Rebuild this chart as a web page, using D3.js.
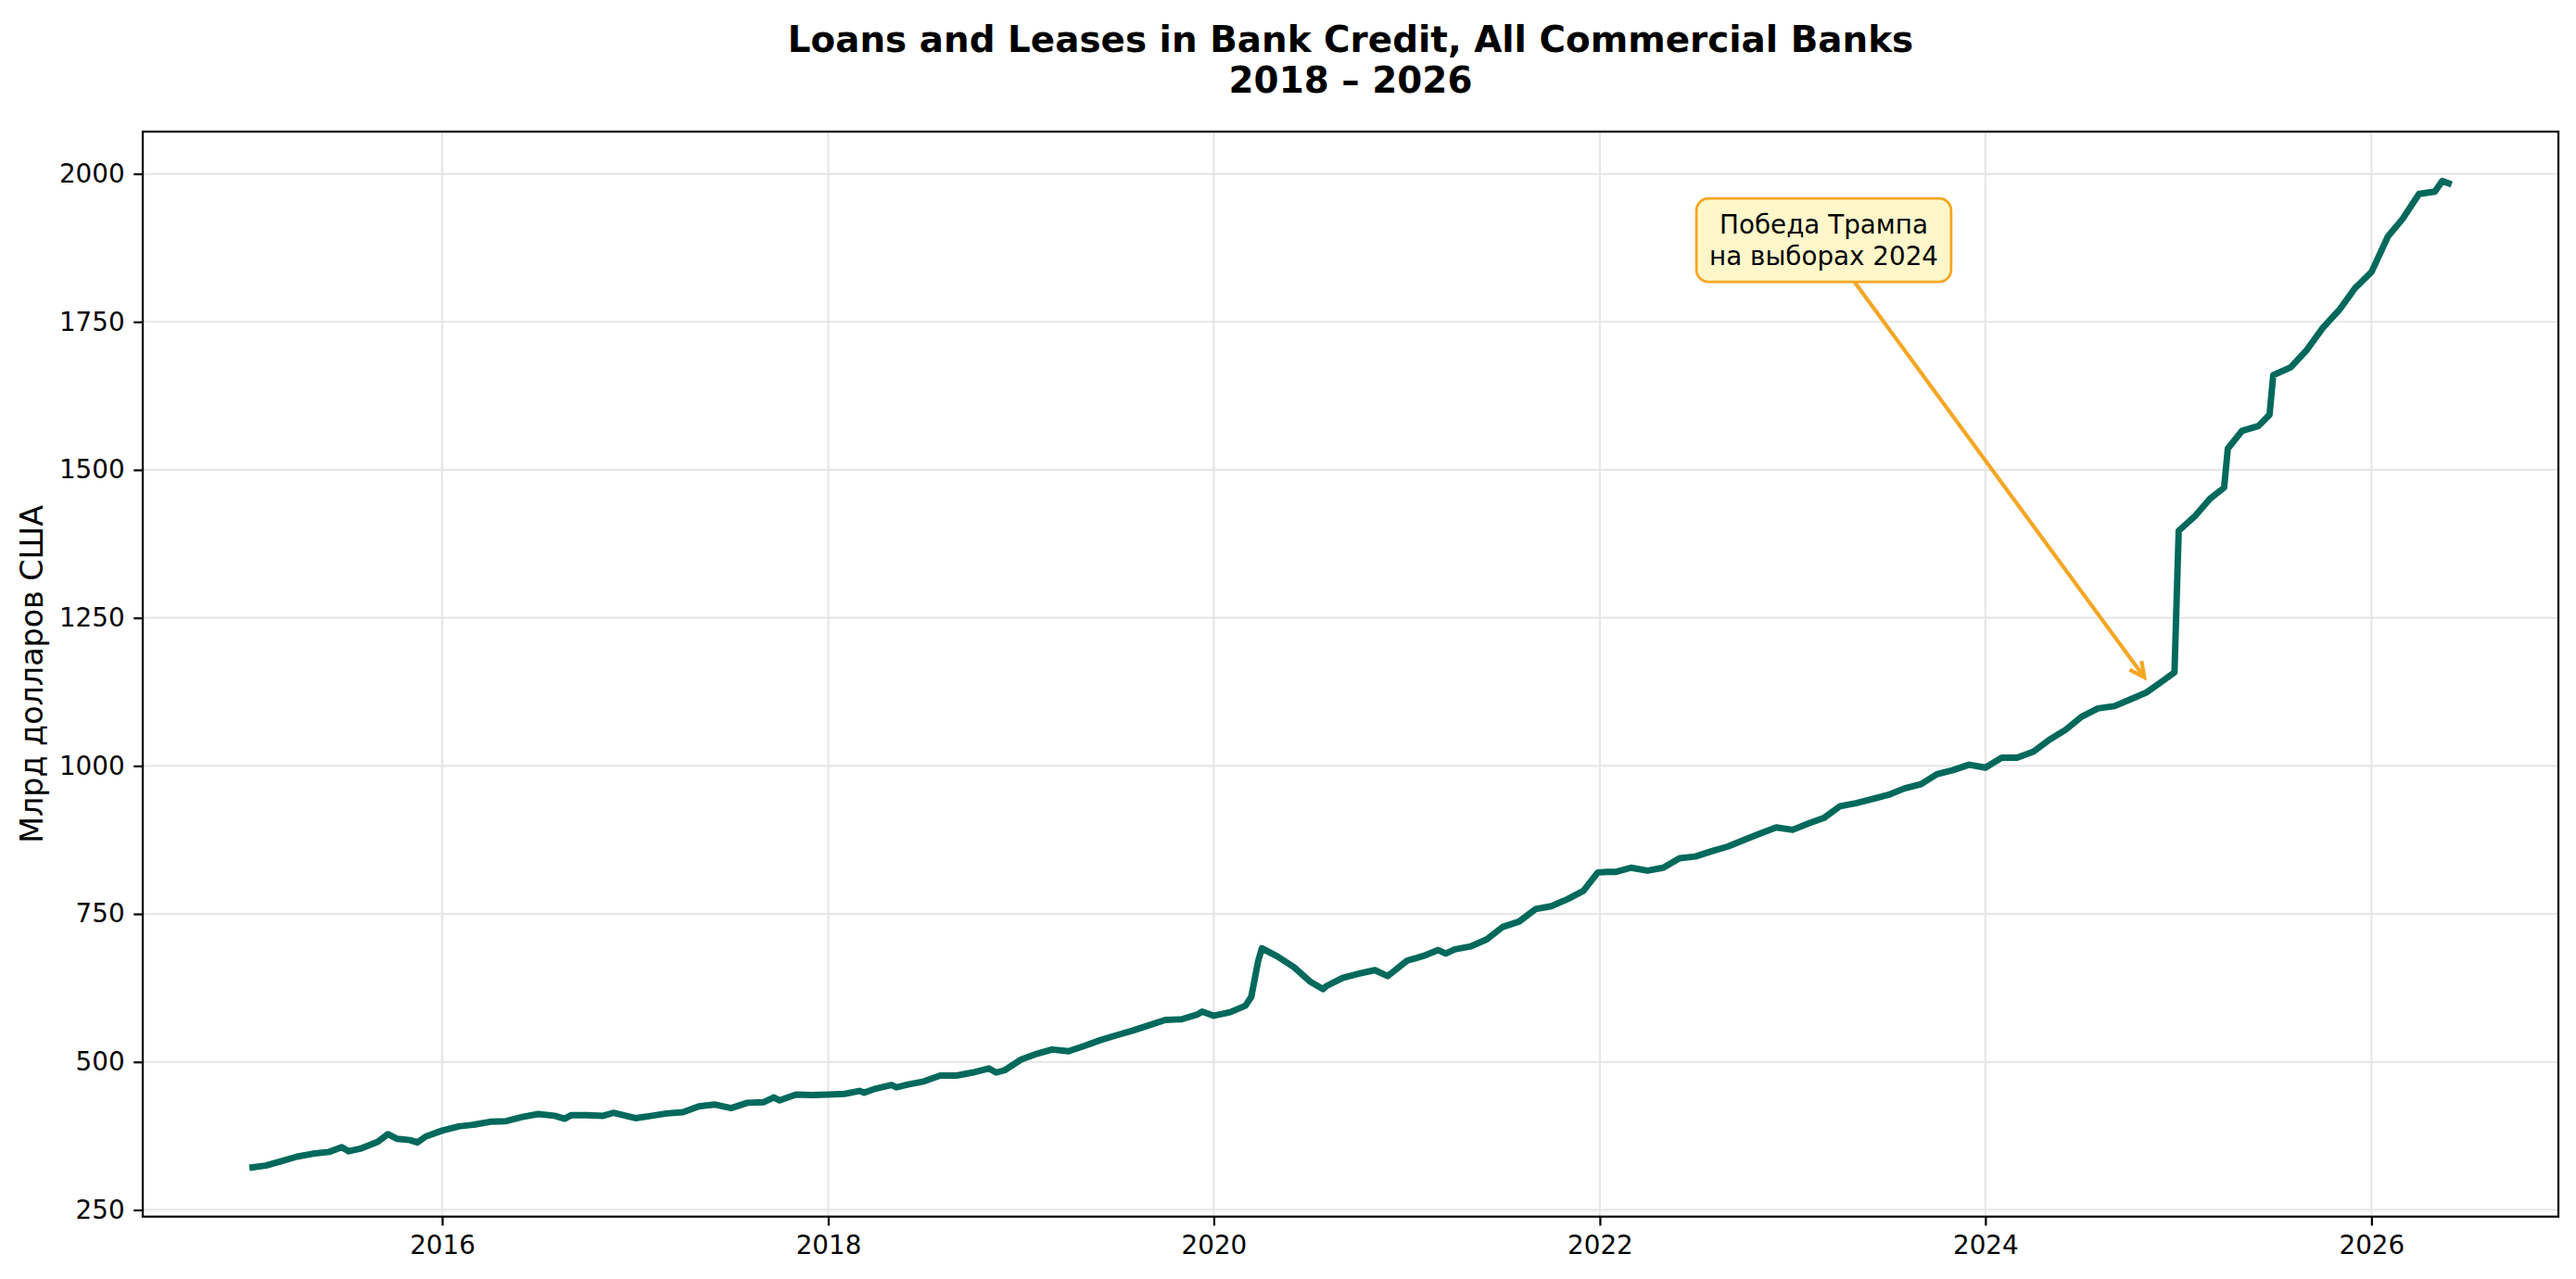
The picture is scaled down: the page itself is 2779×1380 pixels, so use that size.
<!DOCTYPE html>
<html><head><meta charset="utf-8">
<script src="https://cdn.jsdelivr.net/npm/d3@7"></script>
<style>body{margin:0;background:#fff}svg{display:block;font-family:"DejaVu Sans",sans-serif}</style>
</head><body>
<svg id="chart" width="2779" height="1380"></svg>
<script>
const dates = ["2015-01-07","2015-02-01","2015-03-01","2015-04-01","2015-05-01","2015-06-01","2015-06-25","2015-07-08","2015-08-01","2015-09-01","2015-09-20","2015-10-08","2015-11-01","2015-11-15","2015-12-01",
"2016-01-01","2016-02-01","2016-03-01","2016-04-01","2016-05-01","2016-06-01","2016-07-01","2016-08-01","2016-08-20","2016-09-01","2016-10-01","2016-11-01","2016-11-20",
"2017-01-01","2017-02-01","2017-03-01","2017-04-01","2017-05-01","2017-06-01","2017-07-01","2017-08-01","2017-09-01","2017-09-20","2017-10-01","2017-11-01","2017-12-01",
"2018-01-01","2018-02-01","2018-03-01","2018-03-10","2018-04-01","2018-05-01","2018-05-10","2018-06-01","2018-07-01","2018-08-01","2018-09-01","2018-10-01","2018-11-01","2018-11-15","2018-12-01",
"2019-01-01","2019-02-01","2019-03-01","2019-04-01","2019-05-01","2019-06-01","2019-07-01","2019-08-01","2019-09-01","2019-10-01","2019-11-01","2019-12-01","2019-12-10",
"2020-01-01","2020-02-01","2020-03-01","2020-03-12","2020-03-25","2020-04-01","2020-05-01","2020-06-01","2020-07-01","2020-07-26","2020-08-01","2020-09-01","2020-10-01","2020-11-01","2020-11-25","2020-12-01",
"2021-01-01","2021-02-01","2021-03-01","2021-03-15","2021-04-01","2021-05-01","2021-06-01","2021-07-01","2021-08-01","2021-09-01","2021-10-01","2021-11-01","2021-12-01","2021-12-28",
"2022-01-15","2022-02-01","2022-03-01","2022-04-01","2022-05-01","2022-06-01","2022-07-01","2022-08-01","2022-09-01","2022-10-01","2022-11-01","2022-12-01",
"2023-01-01","2023-02-01","2023-03-01","2023-04-01","2023-05-01","2023-06-01","2023-07-01","2023-08-01","2023-09-01","2023-10-01","2023-11-01","2023-12-01",
"2024-01-01","2024-02-01","2024-03-01","2024-04-01","2024-05-01","2024-06-01","2024-07-01","2024-08-01","2024-09-01","2024-10-01","2024-11-01","2024-12-01","2024-12-24",
"2025-01-01","2025-02-01","2025-03-01","2025-03-28","2025-04-04","2025-05-01","2025-06-01","2025-06-22","2025-06-29","2025-08-01","2025-09-01","2025-10-01","2025-11-01","2025-12-01",
"2026-01-01","2026-02-01","2026-03-01","2026-04-01","2026-05-01","2026-05-15","2026-05-27"];
const values = [322,325,332,340,345,348,356,349,354,365,378,370,368,364,374,
384,391,394,399,400,407,412,409,404,410,410,409,414,
405,409,413,415,425,428,422,431,432,440,435,445,444,
445,446,451,448,455,461,457,462,467,477,477,482,489,482,486,
504,514,521,518,527,537,545,553,562,571,572,580,585,
578,584,595,610,670,692,678,660,636,623,628,642,649,655,645,649,
671,679,689,683,690,695,707,728,737,758,763,775,789,820,
821,821,828,823,828,844,847,856,864,875,886,896,
892,903,912,932,937,944,951,962,969,986,993,1002,
997,1014,1014,1024,1044,1061,1083,1097,1101,1112,1124,1143,1158,
1397,1422,1451,1470,1536,1566,1574,1593,1660,1673,1703,1740,1770,1807,
1834,1894,1924,1966,1970,1988,1984];
const yTicks = [250,500,750,1000,1250,1500,1750,2000];
const xTickYears = [2016,2018,2020,2022,2024,2026];
const titleLines = ["Loans and Leases in Bank Credit, All Commercial Banks","2018 – 2026"];
const yLabel = "Млрд долларов США";
const annotationLines = ["Победа Трампа","на выборах 2024"];
const annotationTarget = {date:"2024-10-30", value:1147};
const annotationTextAt = {date:"2023-03-01", value:1888};

const parse = d3.timeParse("%Y-%m-%d");
const data = dates.map((d,i)=>({date:parse(d), value:values[i]}));

const PT = 200/72;
const L=154, R=2760, T=142, B=1312.7;
const svg = d3.select("#chart");
svg.append("rect").attr("width",2779).attr("height",1380).attr("fill","#fff");

const t0=data[0].date, t1=data[data.length-1].date, span=t1-t0;
const x = d3.scaleTime().domain([new Date(+t0-0.05*span), new Date(+t1+0.05*span)]).range([L,R]);
const vmin=d3.min(values), vmax=d3.max(values), vs=vmax-vmin;
const y = d3.scaleLinear().domain([vmin-0.05*vs, vmax+0.05*vs]).range([B,T]);

const xTicks = xTickYears.map(yr=>new Date(yr,0,1));
const grid = svg.append("g");
grid.selectAll("line.gx").data(xTicks).join("line")
  .attr("x1",d=>x(d)).attr("x2",d=>x(d)).attr("y1",T).attr("y2",B)
  .attr("stroke","#e7e7e7").attr("stroke-width",0.8*PT);
grid.selectAll("line.gy").data(yTicks).join("line")
  .attr("x1",L).attr("x2",R).attr("y1",d=>y(d)).attr("y2",d=>y(d))
  .attr("stroke","#e7e7e7").attr("stroke-width",0.8*PT);

svg.append("path").datum(data)
  .attr("d", d3.line().x(d=>x(d.date)).y(d=>y(d.value)))
  .attr("fill","none").attr("stroke","#00695c").attr("stroke-width",2.5*PT)
  .attr("stroke-linejoin","round").attr("stroke-linecap","square");

const fs = 10*PT;
const xa = svg.append("g").attr("transform",`translate(0,${B})`)
  .call(d3.axisBottom(x).tickValues(xTicks).tickFormat(d3.timeFormat("%Y")).tickSize(3.5*PT).tickPadding(11));
const ya = svg.append("g").attr("transform",`translate(${L},0)`)
  .call(d3.axisLeft(y).tickValues(yTicks).tickFormat(d3.format("d")).tickSize(3.5*PT).tickPadding(3.5*PT));
[xa,ya].forEach(g=>{
  g.select(".domain").remove();
  g.selectAll(".tick line").attr("stroke","#000").attr("stroke-width",0.8*PT);
  g.selectAll(".tick text").attr("fill","#000").attr("font-size",fs).attr("font-family","DejaVu Sans");
});
svg.append("rect").attr("x",L).attr("y",T).attr("width",R-L).attr("height",B-T)
  .attr("fill","none").attr("stroke","#000").attr("stroke-width",0.8*PT);

svg.append("text").attr("transform",`translate(46,${(T+B)/2}) rotate(-90)`)
  .attr("text-anchor","middle").attr("font-size",12*PT).attr("fill","#000").text(yLabel);

const tcx=(L+R)/2;
svg.append("text").attr("x",tcx).attr("y",56).attr("text-anchor","middle")
  .attr("font-size",14*PT).attr("font-weight","bold").text(titleLines[0]);
svg.append("text").attr("x",tcx).attr("y",99.5).attr("text-anchor","middle")
  .attr("font-size",14*PT).attr("font-weight","bold").text(titleLines[1]);

const cx = x(parse(annotationTextAt.date)), cy = y(annotationTextAt.value);
const tx = x(parse(annotationTarget.date)), ty = y(annotationTarget.value);
const ann = svg.append("g");
const boxRect = ann.append("rect");
const lineGap = 33.3;
const texts = annotationLines.map((s,i)=>ann.append("text").attr("x",cx)
  .attr("y",cy + (i-0.5)*lineGap + 10).attr("text-anchor","middle")
  .attr("font-size",fs).attr("fill","#000").text(s));
let w = d3.max(texts, t=>t.node().getComputedTextLength());
const pad=0.5*fs, bw=w+2*pad, bh=90;
const bx=cx-bw/2, by=cy-bh/2;
boxRect.attr("x",bx).attr("y",by).attr("width",bw).attr("height",bh).attr("rx",13).attr("ry",13)
  .attr("fill","#fff7c9").attr("stroke","#f5a623").attr("stroke-width",1*PT);
const dx=tx-cx, dy=ty-cy;
let s = Math.min((bh/2)/Math.abs(dy), (bw/2)/Math.abs(dx));
const sx=cx+dx*s, sy=cy+dy*s;
const len=Math.hypot(dx,dy), ux=dx/len, uy=dy/len;
const ex=tx-ux*2, ey=ty-uy*2;
const acol="#f5a623";
ann.append("line").attr("x1",sx).attr("y1",sy).attr("x2",ex).attr("y2",ey)
  .attr("stroke",acol).attr("stroke-width",1.5*PT);
const hl=16, hw=8;
const px=-uy, py=ux;
ann.append("path").attr("d",`M${ex-ux*hl+px*hw},${ey-uy*hl+py*hw}L${ex},${ey}L${ex-ux*hl-px*hw},${ey-uy*hl-py*hw}`)
  .attr("fill","none").attr("stroke",acol).attr("stroke-width",1.5*PT).attr("stroke-linejoin","miter");
</script>
</body></html>
